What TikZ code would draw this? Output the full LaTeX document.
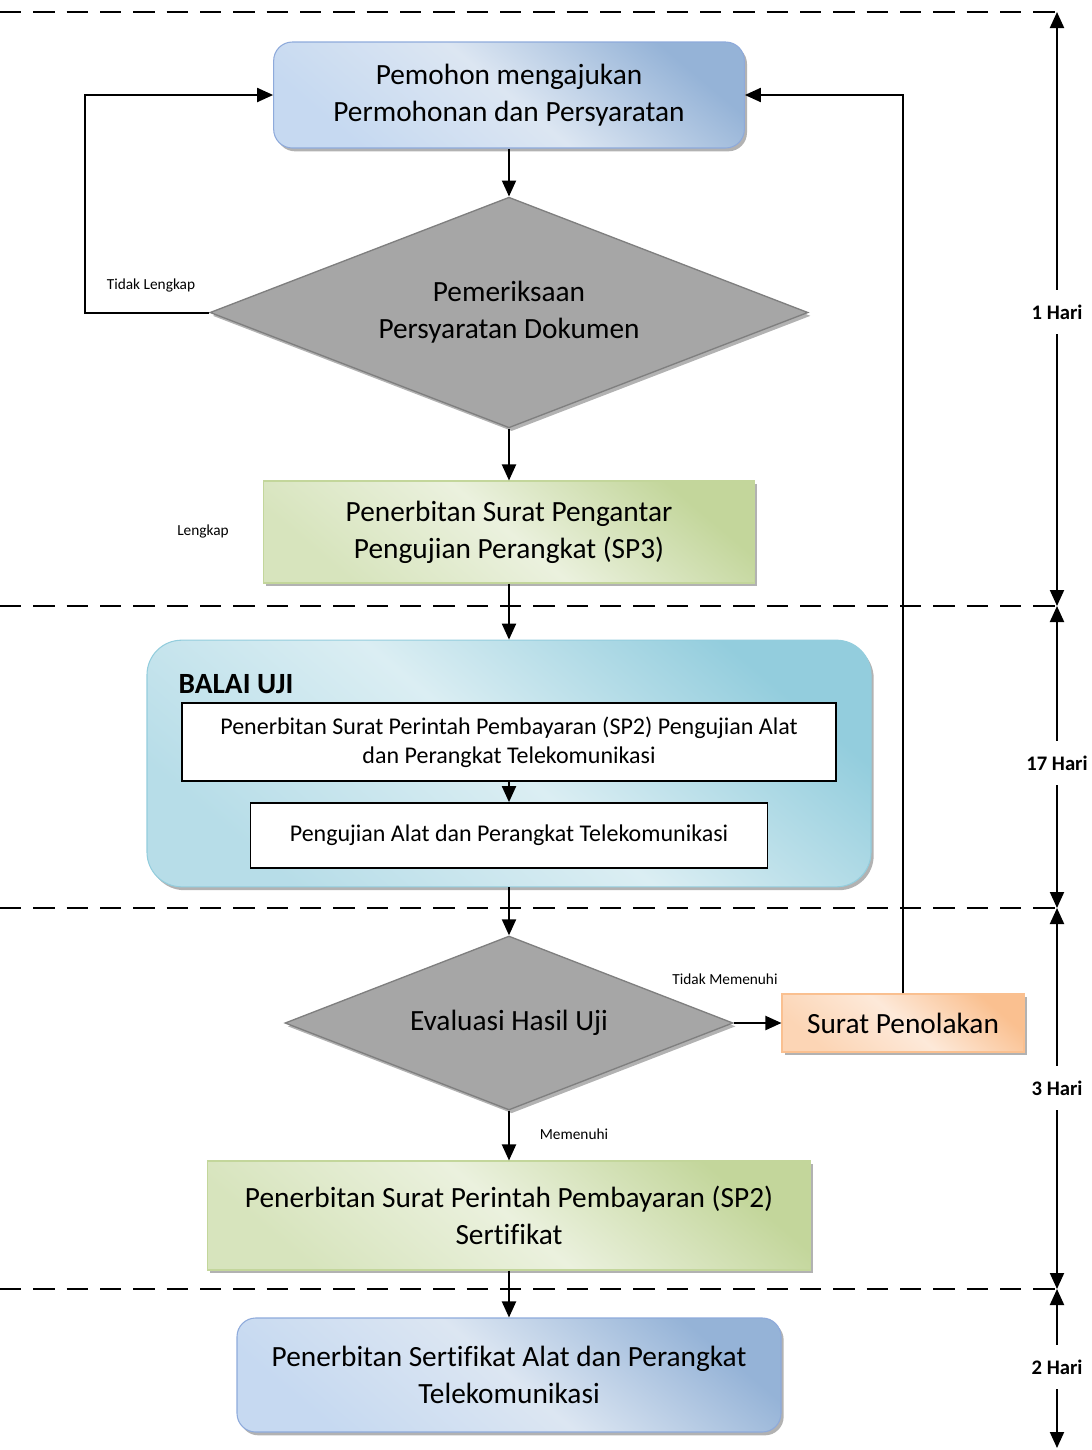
\documentclass[tikz,border=0pt]{standalone}
\usepackage{fontspec}
\setmainfont{Carlito}[Ligatures=NoCommon]
\usetikzlibrary{shapes.geometric,arrows.meta,shadows}
\definecolor{bluetop}{HTML}{95B3D7}
\definecolor{bluemid}{HTML}{DCE6F2}
\definecolor{bluebot}{HTML}{C6D9F1}
\definecolor{blueedge}{HTML}{8EAADB}
\definecolor{greentop}{HTML}{C3D69B}
\definecolor{greenmid}{HTML}{EBF1DE}
\definecolor{greenbot}{HTML}{D7E4BD}
\definecolor{tealtop}{HTML}{93CDDD}
\definecolor{tealmid}{HTML}{DBEEF3}
\definecolor{tealbot}{HTML}{B7DDE8}
\definecolor{orangetop}{HTML}{FAC090}
\definecolor{orangemid}{HTML}{FDE9D9}
\definecolor{orangebot}{HTML}{FCD5B5}
\definecolor{diafill}{HTML}{A6A6A6}
\definecolor{diaedge}{HTML}{7F7F7F}
\begin{document}
\begin{tikzpicture}[x=0.75pt,y=-0.75pt,
  mainfont/.style={font=\fontsize{22pt}{27.75pt}\selectfont},
  shadowed/.style={drop shadow={shadow xshift=2pt,shadow yshift=-2.5pt,fill=black!30,opacity=1}},
  procbox/.style={mainfont,align=center,shadowed,line width=0.8pt,inner sep=4pt},
  bluebox/.style={procbox,rounded corners=14pt,draw=blueedge,top color=bluetop,bottom color=bluebot,middle color=bluemid,shading angle=-40},
  greenbox/.style={procbox,draw=greentop,top color=greentop,bottom color=greenbot,middle color=greenmid,shading angle=-40},
  orangebox/.style={procbox,draw=orangetop,top color=orangetop,bottom color=orangebot,middle color=orangemid,shading angle=-40},
  balaibox/.style={shadowed,rounded corners=26pt,line width=0.8pt,draw=tealtop,top color=tealtop,bottom color=tealbot,middle color=tealmid,shading angle=-40},
  innerbox/.style={draw=black,fill=white,line width=1.3pt,align=center,font=\fontsize{18pt}{21.75pt}\selectfont},
  decision/.style={diamond,aspect=2.6,inner sep=0pt,mainfont,align=center,fill=diafill,draw=diaedge,line width=1pt,shadowed},
  smalllabel/.style={font=\fontsize{11.5pt}{14pt}\selectfont},
  harilabel/.style={font=\bfseries\fontsize{15.5pt}{18pt}\selectfont,inner xsep=1pt,inner ysep=11pt},
  arr/.style={line width=1.5pt,-{Triangle[length=12pt,width=10.5pt]}},
  dashline/.style={line width=1.4pt,dash pattern=on 16pt off 9pt}
]
\useasboundingbox (0,0) rectangle (1092,1450);

% dividers
\coordinate (L0) at (0,12);    \coordinate (R0) at (1057,12);
\coordinate (L1) at (0,606);   \coordinate (R1) at (1057,606);
\coordinate (L2) at (0,908);   \coordinate (R2) at (1057,908);
\coordinate (L3) at (0,1289);  \coordinate (R3) at (1057,1289);
\coordinate (E)  at (1057,1448);
\draw[dashline] (L0) -- (R0);
\draw[dashline] (L1) -- (R1);
\draw[dashline] (L2) -- (R2);
\draw[dashline] (L3) -- (R3);

% main nodes
\node[bluebox,minimum width=353pt,minimum height=79.5pt] (b1) at (509,95) {Pemohon mengajukan\\Permohonan dan Persyaratan};
\node[decision,minimum width=448.5pt,minimum height=173pt] (d1) at (509,312.5) {Pemeriksaan\\Persyaratan Dokumen};
\node[greenbox,minimum width=368pt,minimum height=76.5pt] (b2) at (509,532) {Penerbitan Surat Pengantar\\Pengujian Perangkat (SP3)};
\node[balaibox,minimum width=543pt,minimum height=185pt] (bu) at (509,763.5) {};
\node[font=\bfseries\fontsize{22pt}{26pt}\selectfont] (bt) at (236,684) {BALAI UJI};
\node[innerbox,minimum width=491pt,minimum height=58.5pt] (ia) at (509,742) {Penerbitan Surat Perintah Pembayaran (SP2) Pengujian Alat\\dan Perangkat Telekomunikasi};
\node[innerbox,minimum width=387.75pt,minimum height=48.75pt] (ib) at (509,835.5) {\raisebox{3pt}{Pengujian Alat dan Perangkat Telekomunikasi}};
\node[decision,minimum width=336pt,minimum height=130.5pt] (d2) at (509,1023) {Evaluasi Hasil Uji};
\node[orangebox,minimum width=181.5pt,minimum height=43.5pt] (sp) at (903,1023) {Surat Penolakan};
\node[greenbox,minimum width=452pt,minimum height=81.75pt] (b3) at (509,1215.5) {Penerbitan Surat Perintah Pembayaran (SP2)\\Sertifikat};
\node[bluebox,minimum width=408pt,minimum height=85.5pt] (b4) at (509,1375) {Penerbitan Sertifikat Alat dan Perangkat\\Telekomunikasi};

% labels
\node[smalllabel] (tl) at (151,285) {Tidak Lengkap};
\node[smalllabel] (lk) at (203,531) {Lengkap};
\node[smalllabel] (tm) at (725,979) {Tidak Memenuhi};
\node[smalllabel] (mm) at (574,1134) {Memenuhi};

% connectors
\draw[arr] (b1) -- (d1);
\draw[arr] (d1.west) -- ++(-124,0) |- (b1.west);
\draw[arr] (d1) -- (b2);
\draw[arr] (b2) -- (bu);
\draw[arr] (ia) -- (ib);
\draw[arr] (bu) -- (d2);
\draw[arr] (d2.east) -- (sp.west);
\draw[arr] (sp.north) |- (b1.east);
\draw[arr] (d2) -- (b3);
\draw[arr] (b3) -- (b4);

% time scale
\node[harilabel] (h1) at (1057,312) {1 Hari};
\node[harilabel] (h2) at (1057,763) {17 Hari};
\node[harilabel] (h3) at (1057,1088) {3 Hari};
\node[harilabel] (h4) at (1057,1367) {2 Hari};
\draw[arr] (h1) -- (R0);
\draw[arr] (h1) -- (R1);
\draw[arr] (h2) -- (R1);
\draw[arr] (h2) -- (R2);
\draw[arr] (h3) -- (R2);
\draw[arr] (h3) -- (R3);
\draw[arr] (h4) -- (R3);
\draw[arr] (h4) -- (E);
\end{tikzpicture}
\end{document}
